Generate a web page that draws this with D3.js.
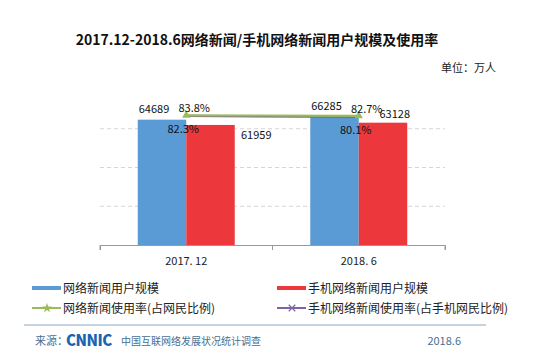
<!DOCTYPE html>
<html>
<head>
<meta charset="utf-8">
<script src="https://cdn.jsdelivr.net/npm/d3@7"></script>
<style>
  body { margin:0; background:#fff; }
  text { font-family: "Noto Sans CJK SC", "Microsoft YaHei", sans-serif; }
</style>
</head>
<body>
<div id="chart"></div>
<script>
/* data */
var periods = ["2017.12", "2018.6"];
var periodLabels = ["2017. 12", "2018. 6"];
var newsUsers = [64689, 66285];
var mobileNewsUsers = [61959, 63128];
var newsRate = [0.838, 0.827];
var mobileNewsRate = [0.823, 0.801];
var gridTicks = [0, 20000, 40000, 60000, 80000];

var W = 549, H = 351;
var margin = { top:90, right:104, bottom:106, left:100 };
var width = W - margin.left - margin.right;
var height = H - margin.top - margin.bottom;

var svg = d3.select("#chart").append("svg")
  .attr("width", W).attr("height", H);

svg.append("rect").attr("width", W).attr("height", H).attr("fill", "#fff");

/* title */
svg.append("text")
  .attr("x", 257).attr("y", 45)
  .attr("text-anchor", "middle")
  .attr("font-size", 14).attr("font-weight", "bold").attr("fill", "#111")
  .text("2017.12-2018.6网络新闻/手机网络新闻用户规模及使用率");

svg.append("text")
  .attr("x", 496).attr("y", 72)
  .attr("text-anchor", "end")
  .attr("font-size", 11).attr("fill", "#222")
  .text("单位：万人");

var g = svg.append("g")
  .attr("transform", "translate(" + margin.left + "," + margin.top + ")");

/* scales */
var x = d3.scaleBand().domain(periods).range([0, width]);
var y = d3.scaleLinear().domain([0, 80000]).range([height, 0]);
// secondary (hidden) axis for the rates
var y2 = d3.scaleLinear().domain([0, 1]).range([63, 18]);

// grid
g.selectAll(".grid").data(gridTicks.slice(1, 4))
  .enter().append("line")
    .attr("x1", 0).attr("x2", width)
    .attr("y1", function(d){ return y(d); })
    .attr("y2", function(d){ return y(d); })
    .attr("stroke", "#d6d6d6").attr("stroke-dasharray", "4,3");

// x axis
var xAxis = d3.axisBottom(x).tickSize(5).tickSizeOuter(5)
  .tickFormat(function(d, i){ return periodLabels[i]; });
var ax = g.append("g")
  .attr("transform", "translate(0," + height + ")")
  .call(xAxis);
ax.select(".domain").attr("stroke", "#999");
ax.selectAll(".tick line").remove();
ax.selectAll(".tick text").attr("font-size", 11).attr("fill", "#222").attr("dy", "1.1em");
// category dividers
g.selectAll(".div").data([0, width / 2, width]).enter().append("line")
  .attr("x1", function(d){ return d; }).attr("x2", function(d){ return d; })
  .attr("y1", height).attr("y2", height + 5).attr("stroke", "#999");

/* bars */
var bw = 48.5;
var blue = "#5b9bd5", red = "#ec383c";
var cx = function(p){ return x(p) + x.bandwidth() / 2; };

g.selectAll(".b1").data(periods).enter().append("rect")
  .attr("x", function(d){ return cx(d) - bw; })
  .attr("y", function(d, i){ return y(newsUsers[i]); })
  .attr("width", bw)
  .attr("height", function(d, i){ return height - y(newsUsers[i]); })
  .attr("fill", blue);

g.selectAll(".b2").data(periods).enter().append("rect")
  .attr("x", function(d){ return cx(d); })
  .attr("y", function(d, i){ return y(mobileNewsUsers[i]); })
  .attr("width", bw)
  .attr("height", function(d, i){ return height - y(mobileNewsUsers[i]); })
  .attr("fill", red);

// bar value labels
g.selectAll(".l1").data(periods).enter().append("text")
  .attr("x", function(d){ return cx(d) - bw / 2 - 8; })
  .attr("y", function(d, i){ return y(newsUsers[i]) - 7; })
  .attr("text-anchor", "middle").attr("font-size", 11).attr("fill", "#111")
  .text(function(d, i){ return newsUsers[i]; });

var redOff = [[70, 14], [36, -5]];
g.selectAll(".l2").data(periods).enter().append("text")
  .attr("x", function(d, i){ return cx(d) + redOff[i][0]; })
  .attr("y", function(d, i){ return y(mobileNewsUsers[i]) + redOff[i][1]; })
  .attr("text-anchor", "middle").attr("font-size", 11).attr("fill", "#111")
  .text(function(d, i){ return mobileNewsUsers[i]; });

/* lines */
var green = "#9bbb59", purple = "#8064a2";
var line = function(arr){
  return d3.line()
    .x(function(d){ return cx(d); })
    .y(function(d, i){ return y2(arr[i]); })(periods);
};
g.append("path").attr("d", line(mobileNewsRate))
  .attr("fill", "none").attr("stroke", purple).attr("stroke-width", 2.2);
g.append("path").attr("d", line(newsRate))
  .attr("fill", "none").attr("stroke", green).attr("stroke-width", 2.2);

g.selectAll(".m1").data(periods).enter().append("path")
  .attr("d", d3.symbol().type(d3.symbolTriangle).size(30))
  .attr("transform", function(d, i){ return "translate(" + cx(d) + "," + y2(newsRate[i]) + ")"; })
  .attr("fill", green);

g.selectAll(".r1").data(periods).enter().append("text")
  .attr("x", function(d){ return cx(d) + 8; })
  .attr("y", function(d, i){ return y2(newsRate[i]) - 3; })
  .attr("text-anchor", "middle").attr("font-size", 11).attr("fill", "#111")
  .text(function(d, i){ return (newsRate[i] * 100).toFixed(1) + "%"; });

g.selectAll(".r2").data(periods).enter().append("text")
  .attr("x", function(d){ return cx(d) - 3; })
  .attr("y", function(d, i){ return y2(mobileNewsRate[i]) + 17; })
  .attr("text-anchor", "middle").attr("font-size", 11).attr("fill", "#111")
  .text(function(d, i){ return (mobileNewsRate[i] * 100).toFixed(1) + "%"; });

/* legend */
var legend = [
  { label:"网络新闻用户规模", color:blue, type:"bar", x:32, y:288 },
  { label:"手机网络新闻用户规模", color:red, type:"bar", x:277, y:288 },
  { label:"网络新闻使用率(占网民比例)", color:green, type:"tri", x:32, y:308 },
  { label:"手机网络新闻使用率(占手机网民比例)", color:purple, type:"x", x:277, y:308 }
];
var lg = svg.selectAll(".lg").data(legend).enter().append("g")
  .attr("transform", function(d){ return "translate(" + d.x + "," + d.y + ")"; });
lg.append("line").attr("x1", 0).attr("x2", 29).attr("y1", 0).attr("y2", 0)
  .attr("stroke", function(d){ return d.color; })
  .attr("stroke-width", function(d){ return d.type == "bar" ? 4 : 2; });
lg.filter(function(d){ return d.type == "tri"; }).append("path")
  .attr("d", d3.symbol().type(d3.symbolStar).size(30))
  .attr("transform", "translate(15,0)").attr("fill", green);
lg.filter(function(d){ return d.type == "x"; }).append("path")
  .attr("d", d3.symbol().type(d3.symbolX).size(30))
  .attr("transform", "translate(15,0)").attr("stroke", purple).attr("stroke-width", 1.2).attr("fill", "none");
lg.append("text").attr("x", 31).attr("y", 4.5)
  .attr("font-size", 12).attr("fill", "#222")
  .text(function(d){ return d.label; });

/* footer */
svg.append("line").attr("x1", 24).attr("x2", 486).attr("y1", 325).attr("y2", 325)
  .attr("stroke", "#8aa7bd").attr("stroke-width", 1);
svg.append("text").attr("x", 35).attr("y", 345)
  .attr("font-size", 11).attr("fill", "#4a6f8f").text("来源：");
svg.append("text").attr("x", 66).attr("y", 346)
  .attr("font-size", 15).attr("font-weight", "900").attr("fill", "#1c64b0")
  .attr("font-family", "Liberation Sans, sans-serif").attr("letter-spacing", "-0.5")
  .text("CNNIC");
svg.append("text").attr("x", 121).attr("y", 345)
  .attr("font-size", 10).attr("fill", "#4a6f8f").text("中国互联网络发展状况统计调查");
svg.append("text").attr("x", 461).attr("y", 345).attr("text-anchor", "end")
  .attr("font-size", 11).attr("fill", "#4a6f8f").text("2018.6");
</script>
</body>
</html>
